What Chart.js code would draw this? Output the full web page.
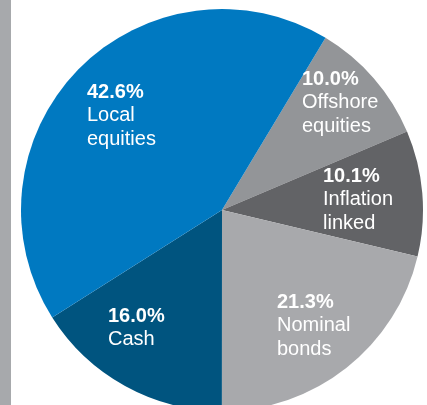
<!DOCTYPE html>
<html>
<head>
<meta charset="utf-8">
<script src="https://cdn.jsdelivr.net/npm/chart.js@4"></script>
<style>
  html, body { margin: 0; padding: 0; width: 427px; height: 405px; overflow: hidden; background: #fff; }
  #sidebar { position: absolute; left: 0; top: 0; width: 11px; height: 405px; background: #a7a9ac; }
  #wrap { position: absolute; left: 20px; top: 8px; width: 404px; height: 404px; }
</style>
</head>
<body>
<div id="sidebar"></div>
<div id="wrap"><canvas id="allocChart" width="404" height="404"></canvas></div>
<script>
const categories = [['Offshore', 'equities'], ['Inflation', 'linked'], ['Nominal', 'bonds'], ['Cash'], ['Local', 'equities']];
const shares = [10.0, 10.1, 21.3, 16.0, 42.6];
const sliceColors = ['#939598', '#626366', '#a8a9ac', '#00547f', '#0079c1'];

// where each label block starts, relative to the pie centre (left edge, first baseline)
const labelOffsets = [[80, -125], [101, -28], [55, 98], [-114, 112], [-135, -112]];

const sliceLabels = {
  id: 'sliceLabels',
  afterDatasetsDraw(chart) {
    const c = chart.ctx;
    const arcs = chart.getDatasetMeta(0).data;
    c.save();
    c.fillStyle = '#ffffff';
    c.textAlign = 'left';
    c.textBaseline = 'alphabetic';
    arcs.forEach((arc, i) => {
      const x = arc.x + labelOffsets[i][0];
      let y = arc.y + labelOffsets[i][1];
      c.font = 'bold 20px "Liberation Sans", Arial, sans-serif';
      c.fillText(shares[i].toFixed(1) + '%', x, y);
      c.font = '20px "Liberation Sans", Arial, sans-serif';
      categories[i].forEach(line => {
        y += 23.3;
        c.fillText(line, x, y);
      });
    });
    c.restore();
  }
};

const ctx = document.getElementById('allocChart');

new Chart(ctx, {
  type: 'pie',
  data: {
    labels: categories.map(l => l.join(' ')),
    datasets: [{
      data: shares,
      backgroundColor: sliceColors,
      borderWidth: 0,
      hoverOffset: 0
    }]
  },
  options: {
    responsive: false,
    animation: false,
    rotation: 31,
    radius: 201,
    layout: { padding: 0 },
    plugins: {
      legend: { display: false },
      tooltip: { enabled: false }
    }
  },
  plugins: [sliceLabels]
});
</script>
</body>
</html>
